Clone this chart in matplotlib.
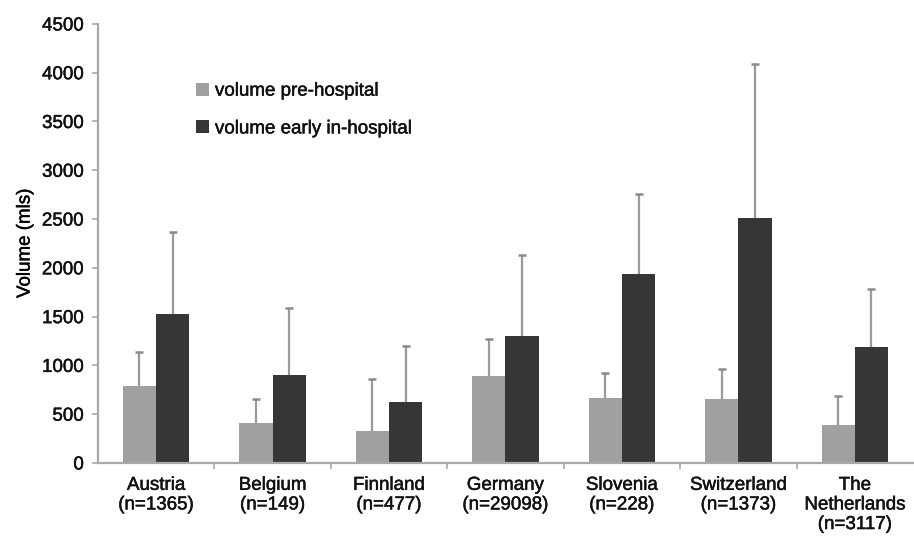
import matplotlib
matplotlib.use("Agg")
import matplotlib.pyplot as plt
import matplotlib.patheffects as pe
import numpy as np

countries = ["Austria\n(n=1365)", "Belgium\n(n=149)", "Finnland\n(n=477)",
             "Germany\n(n=29098)", "Slovenia\n(n=228)", "Switzerland\n(n=1373)",
             "The\nNetherlands\n(n=3117)"]
pre_mean = [785, 405, 330, 895, 670, 660, 385]
pre_sd = [355, 250, 530, 380, 255, 305, 305]
early_mean = [1525, 905, 620, 1300, 1935, 2510, 1190]
early_sd = [845, 685, 580, 835, 825, 1580, 595]

LIGHT, DARK, ERR, AXIS = "#a0a0a0", "#363636", "#9a9a9a", "#a8a8a8"
heavy = [pe.withStroke(linewidth=0.35, foreground="#111111")]

plt.rcParams.update({
    "font.family": ["Liberation Sans", "DejaVu Sans"],
    "font.size": 13.5,
    "text.color": "#111111",
    "xtick.color": "#111111",
    "ytick.color": "#111111",
})

fig = plt.figure(figsize=(9.14, 5.44), dpi=100)
ax = fig.add_axes([0.107, 0.149, 0.892, 0.807])

x = np.arange(len(countries))
w = 0.285


def bars_with_sd(xpos, mean, sd, color, label):
    mean, sd = np.asarray(mean), np.asarray(sd)
    ax.bar(xpos, mean, w, color=color, label=label, zorder=2)
    # upper half of the SD only, with a small cap on top
    ax.vlines(xpos, mean, mean + sd, color=ERR, lw=1.6, zorder=1)
    ax.plot(xpos, mean + sd, ls="none", marker="_", ms=6, mew=1.8,
            color="#8a8a8a", zorder=1)


bars_with_sd(x - w / 2, pre_mean, pre_sd, LIGHT, "volume pre-hospital")
bars_with_sd(x + w / 2, early_mean, early_sd, DARK, "volume early in-hospital")

ax.set_xlim(-0.5, len(x) - 0.5)
ax.set_ylim(0, 4500)
ax.set_yticks(np.arange(0, 4501, 500))
ax.set_xticks(x)
ax.set_xticklabels(countries, linespacing=1.2)
ax.tick_params(axis="x", length=0, pad=10)
ax.set_xticks(np.arange(0.5, len(x) - 0.5, 1), minor=True)
ax.tick_params(axis="x", which="minor", length=4, color=AXIS, width=1.2)
ax.tick_params(axis="y", length=4, color=AXIS, width=1.2, pad=6)
for t in ax.get_xticklabels() + ax.get_yticklabels():
    t.set_path_effects(heavy)

for side in ("top", "right"):
    ax.spines[side].set_visible(False)
for side in ("left", "bottom"):
    ax.spines[side].set_color(AXIS)
    ax.spines[side].set_linewidth(1.6)

ylab = ax.set_ylabel("Volume (mls)", labelpad=6)
ylab.set_path_effects(heavy)

leg = ax.legend(loc="upper left", bbox_to_anchor=(0.1, 0.905), frameon=False,
                handlelength=0.7, handleheight=0.7, handletextpad=0.3,
                labelspacing=1.1, fontsize=13.5)
for t in leg.get_texts():
    t.set_path_effects(heavy)

fig.savefig("out.png", dpi=100, facecolor="white")
